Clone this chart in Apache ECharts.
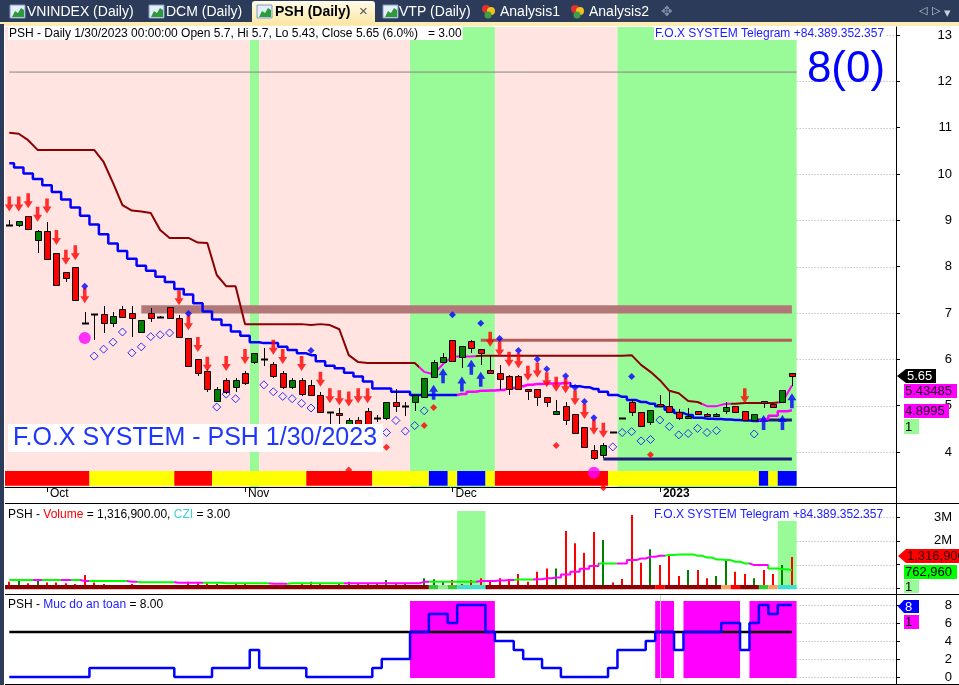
<!DOCTYPE html>
<html><head><meta charset="utf-8">
<script src="https://cdn.jsdelivr.net/npm/echarts@6.0.0/dist/echarts.min.js"></script>
<style>html,body{margin:0;padding:0;background:#fff;overflow:hidden}#chart{width:959px;height:685px}</style>
</head><body><div id="chart"></div>
<script>
// ---------------- DATA ----------------
const dates = ['9/27/2022','9/28/2022','9/29/2022','9/30/2022',
'10/3/2022','10/4/2022','10/5/2022','10/6/2022','10/7/2022','10/10/2022','10/11/2022','10/12/2022','10/13/2022','10/14/2022','10/17/2022','10/18/2022','10/19/2022','10/20/2022','10/21/2022','10/24/2022','10/25/2022','10/26/2022','10/27/2022','10/28/2022','10/31/2022',
'11/1/2022','11/2/2022','11/3/2022','11/4/2022','11/7/2022','11/8/2022','11/9/2022','11/10/2022','11/11/2022','11/14/2022','11/15/2022','11/16/2022','11/17/2022','11/18/2022','11/21/2022','11/22/2022','11/23/2022','11/24/2022','11/25/2022','11/28/2022','11/29/2022','11/30/2022',
'12/1/2022','12/2/2022','12/5/2022','12/6/2022','12/7/2022','12/8/2022','12/9/2022','12/12/2022','12/13/2022','12/14/2022','12/15/2022','12/16/2022','12/19/2022','12/20/2022','12/21/2022','12/22/2022','12/23/2022','12/26/2022','12/27/2022','12/28/2022','12/29/2022','12/30/2022',
'1/3/2023','1/4/2023','1/5/2023','1/6/2023','1/9/2023','1/10/2023','1/11/2023','1/12/2023','1/13/2023','1/16/2023','1/17/2023','1/18/2023','1/19/2023','1/27/2023','1/30/2023'];

const opens  = [8.90,8.91,9.09,8.58,8.77,8.29,7.88,7.99,6.78,6.98, 6.97,6.78,7.08,6.99,6.58,6.99,6.91,7.13,6.89,6.45, 6.00,5.75,5.10,5.55,5.40,5.70,5.95,6.01,5.90,5.70, 5.40,5.55,5.45,5.24,4.87,4.85,4.40,4.70,4.88,4.73, 4.73,5.07,5.00,5.09,5.19,5.62,5.95,6.42,6.06,6.40, 6.22,5.77,5.70,5.64,5.64,5.37,5.37,5.18,4.83,4.99, 4.83,4.54,4.04,3.94,4.44,4.74,5.07,4.86,4.65,5.04, 4.99,4.86,4.73,4.89,4.83,4.78,4.89,4.99,4.88,4.69, 5.10,5.03,5.09,5.70];
const highs  = [9.01,8.99,9.09,8.80,8.97,8.29,7.88,7.99,7.03,6.98, 7.15,7.03,7.15,7.15,6.85,7.10,6.93,7.13,6.95,6.45, 6.00,5.80,5.40,5.60,5.60,5.75,6.14,6.24,5.95,5.75, 5.60,5.60,5.55,5.30,4.87,4.95,4.73,4.75,4.95,4.80, 5.07,5.37,5.07,5.23,5.60,5.98,6.13,6.42,6.29,6.42, 6.22,6.09,5.88,5.66,5.66,5.37,5.37,5.18,5.12,5.09, 4.83,4.54,4.15,4.19,4.44,4.74,5.12,4.86,4.91,5.23, 5.30,4.93,4.95,4.89,4.85,4.85,5.09,4.99,4.88,4.83, 5.10,5.05,5.33,5.70];
const lows   = [8.90,8.86,8.82,8.30,8.16,7.60,7.68,7.27,6.78,6.42, 6.57,6.70,6.92,6.49,6.58,6.81,6.89,6.89,6.48,5.86, 5.65,5.30,5.10,5.25,5.30,5.45,5.90,5.85,5.60,5.35, 5.35,5.20,5.20,4.87,4.60,4.55,4.40,4.35,4.54,4.65, 4.70,4.87,4.78,4.89,5.19,5.60,5.95,5.97,5.81,6.14, 5.88,5.70,5.34,5.23,5.37,5.12,4.99,4.97,4.80,4.58, 4.42,4.10,3.83,3.87,4.44,4.74,4.78,4.57,4.58,4.99, 4.86,4.70,4.73,4.83,4.78,4.78,4.83,4.86,4.69,4.69, 4.95,4.97,5.09,5.43];
const closes = [8.90,8.99,8.82,8.77,8.16,7.60,7.76,7.27,6.78,6.98, 6.78,6.94,6.92,6.89,6.85,6.89,6.91,6.89,6.48,5.86, 5.70,5.35,5.35,5.30,5.55,5.50,6.14,6.01,5.65,5.40, 5.55,5.25,5.24,4.87,4.87,4.80,4.70,4.40,4.54,4.73, 5.07,5.00,5.00,5.23,5.60,5.95,6.04,5.97,6.29,6.24, 6.13,5.70,5.57,5.37,5.37,5.32,5.18,5.07,4.88,4.70, 4.42,4.10,3.86,4.15,4.44,4.74,4.86,4.57,4.91,4.99, 4.86,4.73,4.78,4.83,4.78,4.83,4.98,4.86,4.69,4.83, 5.05,4.98,5.33,5.65];

const stopLine = [10.89,10.87,10.73,10.52,10.52,10.52,10.52,10.52,10.52,10.52, 10.26,9.81,9.33,9.21,9.19,9.16,8.79,8.62,8.62,8.62, 8.52,8.51,7.82,7.58,7.58,6.76,6.76,6.76,6.76,6.76, 6.76,6.76,6.74,6.76,6.74,6.65,6.09,5.94,5.92,5.92, 5.92,5.92,5.92,5.92,5.73,5.68,5.90,6.06,6.06,6.06, 6.08,6.08,6.08,6.08,6.08,6.08,6.08,6.08,6.08,6.08, 6.08,6.08,6.08,6.08,6.08,6.08,6.09,5.88,5.73,5.55, 5.32,5.27,5.10,5.08,4.99,4.99,5.04,5.04,5.06,5.06, 5.06,5.06,5.08,5.43485];
const stopLineColor = ['rrrrrrrrrr','rrrrrrrrrr','rrrrrrrrrr','rrrrrrrrrr','rrrrmmmmmm','rrrrrrrrrr','rrrrrrrrrr','rrrrmmmrrr','rrmm'].join('');

const trendLine = [10.23,10.14,10.01,9.89,9.76,9.61,9.45,9.28,9.10,8.91, 8.70,8.50,8.34,8.17,8.02,7.91,7.78,7.67,7.52,7.40, 7.21,7.03,6.86,6.74,6.60,6.51,6.37,6.35,6.35,6.27, 6.20,6.13,6.09,5.96,5.86,5.81,5.71,5.63,5.52,5.37, 5.37,5.30,5.30,5.23,5.23,5.23,5.23,5.23,5.25,5.30, 5.32,5.33,5.34,5.38,5.42,5.45,5.47,5.48,5.48,5.49, 5.42,5.40,5.36,5.30,5.23,5.19,5.12,5.08,5.04,4.99, 4.91,4.84,4.80,4.74,4.72,4.71,4.70,4.69,4.68,4.67, 4.71,4.78,4.88,4.8995];
const trendLineColor = ['bbbbbbbbbb','bbbbbbbbbb','bbbbbbbbbb','bbbbbbbbbb','bbbbbbbbmm','mmmmmmmmmm','bbbbbbbbbb','bbbbbbbbbb','mmmm'].join('');

const greenZones = [[26,26],[43,51],[65,83]];
const trendStrip = ['RRRRRRRRRY','YYYYYYYYRR','RRYYYYYYYY','YYRRRRRRRY','YYYYYBBYBB','BYRRRRRRRR','RRRRYYYYYY','YYYYYYYYYY','BYBB'].join('');

const sellArrows = [[0,9.19],[1,9.19],[2,9.26],[3,8.97],[4,9.15],[5,8.47],[6,8.04],[7,8.14],[8,7.21],[18,7.17],[19,6.63],[20,6.16],[21,5.73],[23,5.75],[25,5.90],[28,6.10],[29,5.90],[31,5.75],[33,5.41],[34,5.05],[35,5.01],[36,4.98],[37,5.05],[38,5.05],[51,6.27],[52,6.06],[53,5.84],[54,5.81],[55,5.54],[56,5.61],[57,5.40],[58,5.30],[59,5.27],[60,5.01],[61,4.71],[62,4.37],[63,4.31],[78,5.05]];
const buyArrows = [[45,5.45],[46,5.81],[48,5.63],[49,5.99],[50,5.73],[80,4.80],[82,4.80],[83,5.27]];
const blueDots = [[8,7.58],[19,6.99],[32,6.19],[47,6.96],[50,6.78],[52,6.45],[54,6.19],[56,6.00],[57,5.79],[59,5.64],[60,5.39],[61,5.09],[62,4.74],[66,5.63]];
const redDots = [[36,3.61],[40,4.10],[44,4.57],[45,4.96],[58,4.14],[63,3.23],[68,3.94]];
const hollowDots = [[9,6.07],[10,6.22],[11,6.37],[12,6.59],[13,6.14],[14,6.27],[15,6.49],[16,6.53],[17,6.57],[22,4.97],[23,5.25],[24,5.15],[27,5.45],[28,5.30],[29,5.20],[30,5.15],[31,5.05],[32,4.95],[40,4.42],[41,4.68],[42,4.45],[43,4.57],[44,4.89],[64,4.11],[65,4.42],[66,4.44],[67,4.24],[68,4.27],[69,4.69],[70,4.55],[71,4.37],[72,4.40],[73,4.51],[74,4.42],[75,4.46],[79,4.39]];
const bigDots = [[8,6.46],[62,3.55]];

const resistanceBand = {from:14, to:83, low:6.99, high:7.17};
const resistanceLine = {from:50, to:83, value:6.41};
const topLine = {from:0, to:83.5, value:12.2};
const supportLines = [{from:63, to:83, value:3.85},{from:79, to:83, value:4.69}];

const volumes = [280000,310000,210000,310000,240000,240000,210000,180000,560000,240000, 180000,140000,140000,180000,100000,140000,140000,140000,140000,280000, 210000,210000,180000,140000,180000,180000,140000,140000,140000,140000, 100000,180000,280000,180000,140000,180000,280000,210000,210000,180000, 350000,180000,180000,140000,420000,380000,310000,350000,180000,350000, 420000,350000,420000,380000,600000,280000,700000,840000,840000,2420000, 1900000,1500000,2380000,2040000,240000,390000,3090000,1080000,1650000,980000, 1360000,520000,770000,770000,420000,520000,1190000,700000,600000,420000, 770000,600000,980000,1316900];
const volumeDirection = ['dududddddd','dudduddddd','dduddddudd','uddduuuddd','udduuuuddd','ddddddddud','ddduddddud','ddudduuddu','ddud'].join('');
const volumeMA = [350000,350000,350000,350000,350000,350000,350000,350000,310000,310000, 310000,310000,310000,280000,260000,260000,260000,260000,230000,230000, 230000,230000,230000,210000,210000,210000,210000,210000,190000,190000, 210000,210000,210000,210000,210000,210000,210000,210000,210000,210000, 210000,210000,210000,210000,280000,280000,280000,280000,280000,280000, 310000,310000,330000,350000,370000,370000,380000,420000,460000,580000, 700000,820000,940000,1050000,1050000,1050000,1190000,1260000,1330000,1370000, 1410000,1430000,1430000,1370000,1300000,1220000,1190000,1120000,1050000,980000, 980000,840000,800000,762960];
const volumeMAColor = ['gggmggmgmg','gggmggggmm','mgggggggmm','ggggggmmmm','mmmmmggggg','mmmmggmmmm','mmmggmmmmm','gggggggggm','mggg'].join('');
const cziStrip = ['DDDDDDDDDD','DDDDDDDDDD','DDDDDDDDDD','DDDDDDDDDD','DDDDDGLGCC','CDDDDDDDDD','DDDDDDDDDR','DDDDDDORDD','GOCC'].join('');
const volumeZones = [[48,50,3260000],[82,83,2840000]];

const safety = [0,0,0,0,0,0,0,0,0, 1,1,1,1,1,1,1,1,1, 0,0,0,0, 1,1,1,1, 3, 1,1,1,1,1, 0,0,0,0,0,0,0, 1, 2,2,2, 5,5, 7,7, 6, 8,8,8, 5, 4,4, 3, 2,2, 1,1, 0,0,0,0,0, 1, 3,3,3, 4, 5,5, 3, 5,5,5,5, 6,6, 3, 6, 8, 7, 8,8];
const safetyZones = [[43,51],[69,70],[72,77],[79,83]];
const safetyThreshold = 5;

const priceTicks = [4,5,6,7,8,9,10,11,12,13];
const volumeGridTicks = [0,1000000,2000000,3000000];
const volumeLabelTicks = [2000000,3000000];
const safetyTicks = [0,2,4,6,8];

// ---------------- CHART ----------------
const FONT = '"Liberation Sans", Arial, Helvetica, sans-serif';
const N = dates.length;
const X_MIN = -0.456, X_MAX = 94.04;
const monthStarts = [];
for (let i = 1; i < N; i++) { if (dates[i].split('/')[0] !== dates[i-1].split('/')[0]) monthStarts.push(i); }
const MONTHS = ['Jan','Feb','Mar','Apr','May','Jun','Jul','Aug','Sep','Oct','Nov','Dec'];

function runs(codes) {
  const out = []; let s = 0;
  for (let i = 1; i <= codes.length; i++) {
    if (i === codes.length || codes[i] !== codes[s]) { out.push([s, i - 1, codes[s]]); s = i; }
  }
  return out;
}
function pieces(codes, cmap) {
  return runs(codes).map(([s, e, c], k, arr) => ({
    gte: k === 0 ? -10 : s - 0.5, lt: k === arr.length - 1 ? 200 : e + 0.5, color: cmap[c]
  }));
}
function zoneRenderer(colors, full) {
  return (params, api) => {
    const cs = params.coordSys;
    const x1 = api.coord([api.value(0), 1])[0], x2 = api.coord([api.value(1), 1])[0];
    let y1, y2;
    if (full) { y1 = cs.y; y2 = cs.y + cs.height; }
    else { y1 = api.coord([0, api.value(3)])[1]; y2 = api.coord([0, api.value(2)])[1]; }
    const r = echarts.graphic.clipRectByRect({x: x1, y: y1, width: x2 - x1, height: y2 - y1},
      {x: cs.x, y: cs.y, width: cs.width, height: cs.height});
    if (!r) return null;
    return {type: 'rect', shape: r, style: {fill: colors[api.value(4)]}};
  };
}
function gridLineSeries(xi, yi, ticks) {
  return {type: 'custom', xAxisIndex: xi, yAxisIndex: yi, z: 2, silent: true,
    data: ticks.map(v => [N - 0.5, v]), encode: {x: 0, y: 1},
    renderItem: (params, api) => {
      const p = api.coord([api.value(0), api.value(1)]);
      const cs = params.coordSys; const y = Math.round(p[1]) + 0.5;
      return {type: 'line', shape: {x1: p[0], y1: y, x2: cs.x + cs.width, y2: y},
        style: {stroke: '#a8a8a8', lineWidth: 1, lineDash: [1, 2]}};
    }};
}
function levelSeries(xi, yi, lv, color, width, z) {
  return {type: 'line', xAxisIndex: xi, yAxisIndex: yi, z: z, silent: true, symbol: 'none',
    data: [[lv.from, lv.value], [lv.to, lv.value]], lineStyle: {color: color, width: width}};
}

const series = [];
const visualMaps = [];
function add(s) { series.push(s); return series.length - 1; }

// main pane background zones
const mainZoneData = [];
let cur = 0;
greenZones.forEach(([s, e]) => {
  if (s > cur) mainZoneData.push([cur - 0.5, s - 0.5, 0, 0, 0]);
  mainZoneData.push([s - 0.5, e + 0.5, 0, 0, 1]); cur = e + 1;
});
if (cur < N) mainZoneData.push([cur - 0.5, N - 0.5, 0, 0, 0]);
add({type: 'custom', xAxisIndex: 0, yAxisIndex: 0, z: 1, silent: true, data: mainZoneData,
  encode: {x: [0, 1]}, renderItem: zoneRenderer(['#ffe4e1', '#98fb98'], true)});
add(gridLineSeries(0, 0, priceTicks));
add(levelSeries(0, 0, topLine, '#8f8080', 1, 3));
add({type: 'custom', xAxisIndex: 0, yAxisIndex: 0, z: 3, silent: true,
  data: [[resistanceBand.from, resistanceBand.to, resistanceBand.low, resistanceBand.high, 0]],
  encode: {x: [0, 1], y: [2, 3]}, renderItem: zoneRenderer(['#b27878'], false)});
// trend strip
const STRIP_LO = 3.273, STRIP_HI = 3.59;
const stripColors = {R: '#ff0000', Y: '#ffff00', B: '#0000ff'};
const stripKeys = Object.keys(stripColors);
add({type: 'custom', xAxisIndex: 0, yAxisIndex: 0, z: 4, silent: true,
  data: runs(trendStrip).map(([s, e, c]) => [s - 0.5, e + 0.5, STRIP_LO, STRIP_HI, stripKeys.indexOf(c)]),
  encode: {x: [0, 1], y: [2, 3]}, renderItem: zoneRenderer(stripKeys.map(k => stripColors[k]), false)});
add(levelSeries(0, 0, resistanceLine, '#b35c5c', 3, 5));
supportLines.forEach(l => add(levelSeries(0, 0, l, '#1c1c7a', 3, 5)));
const stopIdx = add({type: 'line', xAxisIndex: 0, yAxisIndex: 0, z: 5, silent: true, symbol: 'none',
  data: stopLine.map((v, i) => [i, v]), lineStyle: {width: 2}});
visualMaps.push({type: 'piecewise', show: false, dimension: 0, seriesIndex: stopIdx,
  pieces: pieces(stopLineColor, {r: '#8b0000', m: '#ff00ff'})});
const trendIdx = add({type: 'line', xAxisIndex: 0, yAxisIndex: 0, z: 5, silent: true, symbol: 'none', step: 'middle',
  data: trendLine.map((v, i) => [i, v]), lineStyle: {width: 2.5}});
visualMaps.push({type: 'piecewise', show: false, dimension: 0, seriesIndex: trendIdx,
  pieces: pieces(trendLineColor, {b: '#0000ff', m: '#ff00ff'})});
// candles
add({type: 'custom', xAxisIndex: 0, yAxisIndex: 0, z: 6, silent: true,
  data: opens.map((o, i) => [i, o, closes[i], lows[i], highs[i]]),
  encode: {x: 0, y: [1, 2, 3, 4]},
  renderItem: (params, api) => {
    const i = api.value(0), o = api.value(1), c = api.value(2), l = api.value(3), h = api.value(4);
    const po = api.coord([i, o]), pc = api.coord([i, c]), pl = api.coord([i, l]), ph = api.coord([i, h]);
    const x = Math.round(po[0]) + 0.5;
    const top = Math.round(Math.min(po[1], pc[1])) + 0.5, bot = Math.round(Math.max(po[1], pc[1])) + 0.5;
    const kids = [{type: 'line', shape: {x1: x, y1: Math.round(ph[1]), x2: x, y2: Math.round(pl[1])},
      style: {stroke: '#000', lineWidth: 1}}];
    if (bot - top < 1) {
      kids.push({type: 'line', shape: {x1: x - 3.5, y1: top, x2: x + 3.5, y2: top}, style: {stroke: '#000', lineWidth: 2}});
    } else {
      kids.push({type: 'rect', shape: {x: x - 3, y: top, width: 6, height: bot - top},
        style: {fill: c > o ? '#008000' : '#ff0000', stroke: '#000', lineWidth: 1}});
    }
    return {type: 'group', children: kids};
  }});
// markers
const DOWN = 'path://M3,0 L7,0 L7,8 L10,8 L5,15 L0,8 L3,8 Z';
const UP = 'path://M5,0 L10,7 L7,7 L7,15 L3,15 L3,7 L0,7 Z';
function scatter(data, opt) {
  return Object.assign({type: 'scatter', xAxisIndex: 0, yAxisIndex: 0, z: 7, silent: true, clip: false, data: data}, opt);
}
add(scatter(hollowDots, {symbol: 'diamond', symbolSize: 8, itemStyle: {color: 'rgba(0,0,0,0)', borderColor: '#0000ff', borderWidth: 1}}));
add(scatter(sellArrows, {symbol: DOWN, symbolSize: [9, 15], symbolOffset: [0, '-50%'], itemStyle: {color: '#ff0000'}}));
add(scatter(buyArrows, {symbol: UP, symbolSize: [9, 15], symbolOffset: [0, '50%'], itemStyle: {color: '#0000ff'}}));
add(scatter(blueDots, {symbol: 'diamond', symbolSize: 7, itemStyle: {color: '#0000ff'}}));
add(scatter(redDots, {symbol: 'diamond', symbolSize: 7, itemStyle: {color: '#ff0000'}}));
add(scatter(bigDots, {symbol: 'circle', symbolSize: 12, itemStyle: {color: '#ff00ff'}}));

// ---- volume pane ----
add({type: 'custom', xAxisIndex: 1, yAxisIndex: 1, z: 1, silent: true,
  data: volumeZones.map(([s, e, h]) => [s - 0.5, e + 0.5, 0, h, 0]),
  encode: {x: [0, 1], y: [2, 3]}, renderItem: zoneRenderer(['#98fb98'], false)});
add(gridLineSeries(1, 1, volumeGridTicks));
add({type: 'custom', xAxisIndex: 1, yAxisIndex: 1, z: 3, silent: true,
  data: volumes.map((v, i) => [i, v, volumeDirection[i] === 'u' ? 1 : 0]), encode: {x: 0, y: 1},
  renderItem: (params, api) => {
    const p = api.coord([api.value(0), api.value(1)]), b = api.coord([api.value(0), 0]);
    const x = Math.round(p[0]);
    return {type: 'rect', shape: {x: x - 1, y: p[1], width: 2, height: b[1] - p[1]},
      style: {fill: api.value(2) ? '#008000' : '#ff0000'}};
  }});
const vmaIdx = add({type: 'line', xAxisIndex: 1, yAxisIndex: 1, z: 4, silent: true, symbol: 'none', step: 'middle',
  data: volumeMA.map((v, i) => [i, v]), lineStyle: {width: 2}});
visualMaps.push({type: 'piecewise', show: false, dimension: 0, seriesIndex: vmaIdx,
  pieces: pieces(volumeMAColor, {g: '#00ff00', m: '#ff00ff'})});
const cziColors = {D: '#8b0000', G: '#32cd32', L: '#90ee90', C: '#40e0d0', R: '#ff0000', O: '#f4a460'};
const cziKeys = Object.keys(cziColors);
const CZI_LO = -42000, CZI_HI = 139000;
add({type: 'custom', xAxisIndex: 1, yAxisIndex: 1, z: 5, silent: true,
  data: runs(cziStrip).map(([s, e, c]) => [s - 0.5, e + 0.5, CZI_LO, CZI_HI, cziKeys.indexOf(c)]),
  encode: {x: [0, 1], y: [2, 3]}, renderItem: zoneRenderer(cziKeys.map(k => cziColors[k]), false)});

// ---- safety pane ----
const SZ_LO = -0.11, SZ_HI = 8.44;
add({type: 'custom', xAxisIndex: 2, yAxisIndex: 2, z: 1, silent: true,
  data: safetyZones.map(([s, e]) => [s - 0.5, e + 0.5, SZ_LO, SZ_HI, 0]),
  encode: {x: [0, 1], y: [2, 3]}, renderItem: zoneRenderer(['#ff00ff'], false)});
add(gridLineSeries(2, 2, safetyTicks));
add({type: 'custom', xAxisIndex: 2, yAxisIndex: 2, z: 2, silent: true,
  data: [[monthStarts[monthStarts.length - 1], 0]], encode: {x: 0, y: 1},
  renderItem: (params, api) => {
    const p = api.coord([api.value(0), 0]); const cs = params.coordSys; const x = Math.round(p[0]) + 0.5;
    return {type: 'line', shape: {x1: x, y1: cs.y, x2: x, y2: cs.y + cs.height}, style: {stroke: '#cfcfcf', lineWidth: 1}};
  }});
add(levelSeries(2, 2, {from: 0, to: N - 1, value: safetyThreshold}, '#000', 2.5, 3));
add({type: 'line', xAxisIndex: 2, yAxisIndex: 2, z: 4, silent: true, symbol: 'none', step: 'middle',
  data: safety.map((v, i) => [i, v]), lineStyle: {color: '#0000ff', width: 2.5}});

// ---------------- AXES ----------------
function xAxis(gi, show) {
  return {gridIndex: gi, type: 'value', min: X_MIN, max: X_MAX, show: show,
    axisLine: {show: true, onZero: false, lineStyle: {color: '#000', width: 1}},
    axisTick: {show: true, customValues: monthStarts, length: 5, lineStyle: {color: '#000'}},
    axisLabel: {customValues: monthStarts, align: 'left', margin: 1, padding: [0, 0, 0, 3], color: '#000',
      fontSize: 12, fontFamily: FONT,
      formatter: v => { const d = dates[Math.round(v)].split('/'); return d[0] === '1' ? '{b|' + d[2] + '}' : MONTHS[+d[0] - 1]; },
      rich: {b: {fontWeight: 'bold', fontSize: 12, fontFamily: FONT, color: '#000'}}},
    splitLine: {show: false}};
}
function yAxis(gi, min, max, ticks, labels, fmt) {
  return {gridIndex: gi, type: 'value', position: 'right', min: min, max: max,
    axisLine: {show: true, onZero: false, lineStyle: {color: '#000', width: 1}},
    axisTick: {show: true, customValues: ticks, length: 4, lineStyle: {color: '#000'}},
    axisLabel: {customValues: labels, align: 'right', margin: 56, color: '#000', fontSize: 13, fontFamily: FONT, formatter: fmt},
    splitLine: {show: false}};
}

// ---------------- GRAPHICS (tabs, titles, tags) ----------------
const G = [];
function T(x, y, text, o) {
  G.push({type: 'text', x: x, y: y, z: 100, silent: true, style: Object.assign({text: text, font: '12px ' + FONT, fill: '#000',
    textAlign: 'left', align: 'left', textVerticalAlign: 'middle', verticalAlign: 'middle'}, o || {})});
}
function R(x, y, w, h, fill, o) { G.push(Object.assign({type: 'rect', z: 99, silent: true, shape: {x: x, y: y, width: w, height: h}, style: {fill: fill}}, o || {})); }
function L(x1, y1, x2, y2, c, w) { G.push({type: 'line', z: 99, silent: true, shape: {x1: x1, y1: y1, x2: x2, y2: y2}, style: {stroke: c, lineWidth: w || 1}}); }
function tag(x1, x2, y1, y2, text, bg, fg, tip) {
  const ym = (y1 + y2) / 2;
  const pts = tip != null ? [[tip, ym], [x1, y1], [x2, y1], [x2, y2], [x1, y2]] : [[x1, y1], [x2, y1], [x2, y2], [x1, y2]];
  G.push({type: 'polygon', z: 100, silent: true, shape: {points: pts}, style: {fill: bg}});
  T(x1 + 1, ym + 0.5, text, {fill: fg, font: '13px ' + FONT, z: 101});
}
// tab bar
R(0, 0, 959, 24, '#2c3b59');
R(0, 22, 959, 4, '#fcecb4');
R(0, 24, 4, 661, '#2c3b59');
G.push({type: 'rect', z: 99, silent: true, shape: {x: 252, y: 1, width: 123, height: 24, r: [3, 3, 0, 0]},
  style: {fill: new echarts.graphic.LinearGradient(0, 0, 0, 1, [{offset: 0, color: '#fffbea'}, {offset: 1, color: '#fbe6a2'}])}});
[10, 149, 257, 383].forEach(x => {
  R(x, 5, 15, 13, '#e4eefb', {style: {fill: '#e4eefb', stroke: '#7f9cc4', lineWidth: 1}});
  G.push({type: 'polygon', z: 100, silent: true, shape: {points: [[x + 2, 17], [x + 5, 11], [x + 8, 13], [x + 11, 8], [x + 14, 10], [x + 14, 17]]}, style: {fill: '#2e9b3a'}});
});
T(27, 12.5, 'VNINDEX (Daily)', {fill: '#fff', font: '14px ' + FONT});
T(166, 12.5, 'DCM (Daily)', {fill: '#fff', font: '14px ' + FONT});
T(275, 12.5, 'PSH (Daily)', {fill: '#000', font: 'bold 14px ' + FONT});
T(359, 12, '×', {fill: '#555', font: '15px ' + FONT});
T(399, 12.5, 'VTP (Daily)', {fill: '#fff', font: '14px ' + FONT});
[481, 570].forEach(x => {
  G.push({type: 'circle', z: 100, silent: true, shape: {cx: x + 5, cy: 9, r: 4}, style: {fill: '#e03030'}});
  G.push({type: 'circle', z: 100, silent: true, shape: {cx: x + 10, cy: 11, r: 4}, style: {fill: '#f0c020'}});
  G.push({type: 'circle', z: 100, silent: true, shape: {cx: x + 7, cy: 15, r: 3.5}, style: {fill: '#40a040'}});
});
T(500, 12.5, 'Analysis1', {fill: '#fff', font: '14px ' + FONT});
T(589, 12.5, 'Analysis2', {fill: '#fff', font: '14px ' + FONT});
T(661, 12, '✥', {fill: '#8090a8', font: '14px ' + FONT});
T(919, 11, '◁', {fill: '#c8d0dc', font: '11px ' + FONT});
T(932, 11, '▷', {fill: '#c8d0dc', font: '11px ' + FONT});
T(944, 13, '▾', {fill: '#c8d0dc', font: '13px ' + FONT});
// pane separators
L(896.5, 487, 896.5, 504, '#000', 1);
L(5, 503.5, 959, 503.5, '#000', 1);
L(5, 594.5, 959, 594.5, '#000', 1);
L(5, 684.5, 959, 684.5, '#000', 1);
// main titles
T(8, 33.5, 'PSH - Daily 1/30/2023 00:00:00 Open 5.7, Hi 5.7, Lo 5.43, Close 5.65 (6.0%)   = 3.00', {backgroundColor: '#fff', padding: [1, 1, 0, 1]});
T(654, 33.5, 'F.O.X SYSTEM Telegram +84.389.352.357', {fill: '#1a1aff', backgroundColor: '#fff', padding: [1, 1, 0, 1]});
T(846, 70, '8(0)', {fill: '#0000ff', font: '44px ' + FONT, textAlign: 'center', align: 'center'});
R(8, 424, 375, 28, '#fff');
T(13, 438.5, 'F.O.X SYSTEM - PSH 1/30/2023', {fill: '#1f36ff', font: '25px ' + FONT});
// value tags main
tag(906, 936, 369, 383, '5.65', '#000', '#fff', 897);
tag(904, 957, 384, 398, '5.43485', '#ff00ff', '#1a001a');
tag(904, 949, 404, 418, '4.8995', '#ff00ff', '#1a001a');
tag(904, 919, 419, 434, '1', '#98fb98', '#000');
// volume pane texts
G.push({type: 'text', x: 8, y: 514.5, z: 100, silent: true, style: {text: '{k|PSH - }{r|Volume}{k| = 1,316,900.00, }{c|CZI}{k| = 3.00}',
  textVerticalAlign: 'middle', verticalAlign: 'middle',
  rich: {k: {fill: '#000', font: '12px ' + FONT}, r: {fill: '#ff0000', font: '12px ' + FONT}, c: {fill: '#40d0d0', font: '12px ' + FONT}}}});
T(654, 514.5, 'F.O.X SYSTEM Telegram +84.389.352.357', {fill: '#1a1aff'});
tag(906, 959, 549, 563, '1,316,900', '#ff0000', '#300', 898);
tag(904, 957, 565, 579, '762,960', '#00ff00', '#000');
tag(904, 919, 580, 593, '1', '#98fb98', '#000');
// safety pane texts
G.push({type: 'text', x: 8, y: 604.5, z: 100, silent: true, style: {text: '{k|PSH - }{b|Muc do an toan}{k| = 8.00}',
  textVerticalAlign: 'middle', verticalAlign: 'middle',
  rich: {k: {fill: '#000', font: '12px ' + FONT}, b: {fill: '#2020ff', font: '12px ' + FONT}}}});
tag(904, 919, 600, 613, '8', '#0000ff', '#fff', 898);
tag(904, 919, 615, 629, '1', '#ff00ff', '#000');

const chart = echarts.init(document.getElementById('chart'), null, {renderer: 'canvas'});
chart.setOption({
  animation: false,
  backgroundColor: '#fff',
  textStyle: {fontFamily: FONT},
  grid: [
    {left: 5, top: 27, width: 891, height: 460},
    {left: 5, top: 504, width: 891, height: 90},
    {left: 5, top: 594, width: 891, height: 90}
  ],
  xAxis: [xAxis(0, true), xAxis(1, false), xAxis(2, false)],
  yAxis: [
    yAxis(0, 3.2446, 13.1732, priceTicks, priceTicks),
    yAxis(1, -240500, 3557000, volumeGridTicks, volumeLabelTicks, v => (v / 1e6) + 'M'),
    yAxis(2, -0.7778, 9.2222, safetyTicks, safetyTicks)
  ],
  visualMap: visualMaps,
  series: series,
  graphic: G
});
</script></body></html>
